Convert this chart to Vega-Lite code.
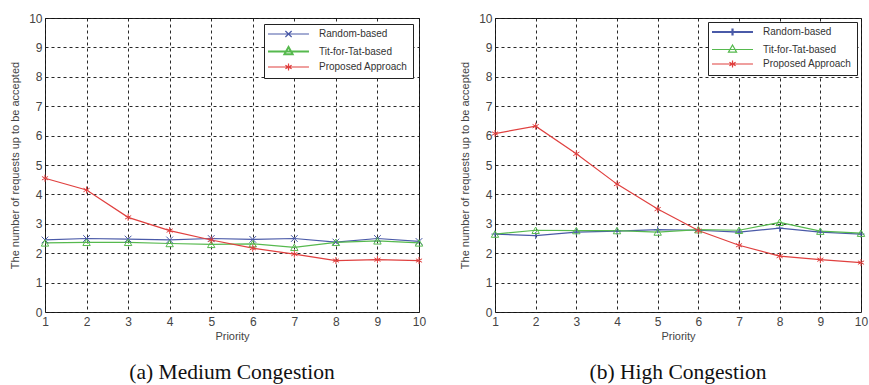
{
  "$schema": "https://vega.github.io/schema/vega-lite/v6.json",
  "padding": {"left": 9, "top": 11, "right": 2, "bottom": 2},
  "background": "white",
  "datasets": {
    "medium": [
      {"priority": 1, "series": "Random-based", "value": 2.45},
      {"priority": 2, "series": "Random-based", "value": 2.5},
      {"priority": 3, "series": "Random-based", "value": 2.48},
      {"priority": 4, "series": "Random-based", "value": 2.45},
      {"priority": 5, "series": "Random-based", "value": 2.5},
      {"priority": 6, "series": "Random-based", "value": 2.47},
      {"priority": 7, "series": "Random-based", "value": 2.5},
      {"priority": 8, "series": "Random-based", "value": 2.38},
      {"priority": 9, "series": "Random-based", "value": 2.5},
      {"priority": 10, "series": "Random-based", "value": 2.4},
      {"priority": 1, "series": "Tit-for-Tat-based", "value": 2.35},
      {"priority": 2, "series": "Tit-for-Tat-based", "value": 2.37},
      {"priority": 3, "series": "Tit-for-Tat-based", "value": 2.37},
      {"priority": 4, "series": "Tit-for-Tat-based", "value": 2.33},
      {"priority": 5, "series": "Tit-for-Tat-based", "value": 2.3},
      {"priority": 6, "series": "Tit-for-Tat-based", "value": 2.32},
      {"priority": 7, "series": "Tit-for-Tat-based", "value": 2.2},
      {"priority": 8, "series": "Tit-for-Tat-based", "value": 2.37},
      {"priority": 9, "series": "Tit-for-Tat-based", "value": 2.42},
      {"priority": 10, "series": "Tit-for-Tat-based", "value": 2.35},
      {"priority": 1, "series": "Proposed Approach", "value": 4.55},
      {"priority": 2, "series": "Proposed Approach", "value": 4.15},
      {"priority": 3, "series": "Proposed Approach", "value": 3.22},
      {"priority": 4, "series": "Proposed Approach", "value": 2.77},
      {"priority": 5, "series": "Proposed Approach", "value": 2.45},
      {"priority": 6, "series": "Proposed Approach", "value": 2.17},
      {"priority": 7, "series": "Proposed Approach", "value": 1.97},
      {"priority": 8, "series": "Proposed Approach", "value": 1.75},
      {"priority": 9, "series": "Proposed Approach", "value": 1.78},
      {"priority": 10, "series": "Proposed Approach", "value": 1.75}
    ],
    "high": [
      {"priority": 1, "series": "Random-based", "value": 2.65},
      {"priority": 2, "series": "Random-based", "value": 2.6},
      {"priority": 3, "series": "Random-based", "value": 2.72},
      {"priority": 4, "series": "Random-based", "value": 2.75},
      {"priority": 5, "series": "Random-based", "value": 2.8},
      {"priority": 6, "series": "Random-based", "value": 2.78},
      {"priority": 7, "series": "Random-based", "value": 2.72},
      {"priority": 8, "series": "Random-based", "value": 2.85},
      {"priority": 9, "series": "Random-based", "value": 2.72},
      {"priority": 10, "series": "Random-based", "value": 2.65},
      {"priority": 1, "series": "Tit-for-Tat-based", "value": 2.65},
      {"priority": 2, "series": "Tit-for-Tat-based", "value": 2.78},
      {"priority": 3, "series": "Tit-for-Tat-based", "value": 2.77},
      {"priority": 4, "series": "Tit-for-Tat-based", "value": 2.77},
      {"priority": 5, "series": "Tit-for-Tat-based", "value": 2.72},
      {"priority": 6, "series": "Tit-for-Tat-based", "value": 2.8},
      {"priority": 7, "series": "Tit-for-Tat-based", "value": 2.78},
      {"priority": 8, "series": "Tit-for-Tat-based", "value": 3.05},
      {"priority": 9, "series": "Tit-for-Tat-based", "value": 2.75},
      {"priority": 10, "series": "Tit-for-Tat-based", "value": 2.68},
      {"priority": 1, "series": "Proposed Approach", "value": 6.07},
      {"priority": 2, "series": "Proposed Approach", "value": 6.32},
      {"priority": 3, "series": "Proposed Approach", "value": 5.38},
      {"priority": 4, "series": "Proposed Approach", "value": 4.35},
      {"priority": 5, "series": "Proposed Approach", "value": 3.5},
      {"priority": 6, "series": "Proposed Approach", "value": 2.77},
      {"priority": 7, "series": "Proposed Approach", "value": 2.27},
      {"priority": 8, "series": "Proposed Approach", "value": 1.9},
      {"priority": 9, "series": "Proposed Approach", "value": 1.78},
      {"priority": 10, "series": "Proposed Approach", "value": 1.68}
    ]
  },
  "config": {
    "view": {"stroke": "#222", "strokeWidth": 1},
    "font": "Liberation Sans",
    "axis": {
      "labelFont": "Liberation Sans",
      "labelFontSize": 12,
      "labelColor": "#444",
      "labelFlush": false,
      "labelOverlap": false,
      "titleFont": "Liberation Sans",
      "titleFontSize": 11,
      "titleFontWeight": "normal",
      "titleColor": "#444",
      "ticks": false,
      "domain": false,
      "grid": true,
      "gridColor": "#111",
      "gridDash": [3, 3],
      "gridOpacity": 0.9,
      "gridWidth": 1
    },
    "legend": {
      "labelFont": "Liberation Sans",
      "labelFontSize": 10,
      "labelColor": "#333",
      "fillColor": "white",
      "strokeColor": "#222",
      "padding": 5,
      "rowPadding": 2.5,
      "symbolSize": 144,
      "symbolStrokeWidth": 1.2,
      "labelOffset": 40,
      "title": null
    },
    "title": {
      "font": "Liberation Serif",
      "fontSize": 21.5,
      "fontWeight": "normal",
      "color": "#111",
      "orient": "bottom",
      "anchor": "middle",
      "offset": 21
    }
  },
  "spacing": 32,
  "hconcat": [
    {
      "width": 374,
      "height": 294,
      "title": "(a)  Medium Congestion",
      "data": {"name": "medium"},
      "encoding": {
        "x": {"field": "priority", "type": "quantitative", "scale": {"domain": [1, 10], "nice": false}, "axis": {"title": "Priority", "values": [1,2,3,4,5,6,7,8,9,10], "labelPadding": 4, "titlePadding": 3}},
        "y": {"field": "value", "type": "quantitative", "scale": {"domain": [0, 10], "nice": false}, "axis": {"title": "The number of requests up to be accepted", "values": [0,1,2,3,4,5,6,7,8,9,10], "labelPadding": 3, "titlePadding": 8}},
        "color": {"field": "series", "type": "nominal", "scale": {"domain": ["Random-based", "Tit-for-Tat-based", "Proposed Approach"], "range": ["#4a5aa8", "#56b94e", "#e0403f"]},
          "legend": {"orient": "top-right", "offset": 6,
            "encode": {"symbols": {"update": {
              "shape": {"signal": "datum.value === 'Random-based' ? 'M-1,0L5.83,0M1.9,-0.5L2.94,0.5M1.9,0.5L2.94,-0.5' : datum.value === 'Tit-for-Tat-based' ? 'M-1,0L5.83,0M2.42,-0.75L3.1,0.45L1.74,0.45Z' : 'M-1,0L5.83,0M2.42,-0.6L2.42,0.6M1.9,-0.3L2.94,0.3M1.9,0.3L2.94,-0.3'"},
              "strokeWidth": {"signal": "datum.value === 'Tit-for-Tat-based' ? 2 : 1.2"},
              "fill": {"value": "transparent"}}}}}}
      },
      "layer": [
        {"mark": {"type": "line", "strokeWidth": 1.2}},
        {"transform": [{"filter": "datum.series === 'Random-based'"}], "mark": {"type": "point", "filled": false, "size": 45, "strokeWidth": 1, "opacity": 1, "shape": "M-1,-1L1,1M-1,1L1,-1"}},
        {"transform": [{"filter": "datum.series === 'Tit-for-Tat-based'"}], "mark": {"type": "point", "filled": false, "size": 55, "strokeWidth": 1, "opacity": 1, "shape": "triangle-up"}},
        {"transform": [{"filter": "datum.series === 'Proposed Approach'"}], "mark": {"type": "point", "filled": false, "size": 50, "strokeWidth": 1, "opacity": 1, "shape": "M0,-1L0,1M-0.87,-0.5L0.87,0.5M-0.87,0.5L0.87,-0.5"}}
      ]
    },
    {
      "width": 366,
      "height": 294,
      "title": "(b)  High Congestion",
      "data": {"name": "high"},
      "encoding": {
        "x": {"field": "priority", "type": "quantitative", "scale": {"domain": [1, 10], "nice": false}, "axis": {"title": "Priority", "values": [1,2,3,4,5,6,7,8,9,10], "labelPadding": 4, "titlePadding": 3}},
        "y": {"field": "value", "type": "quantitative", "scale": {"domain": [0, 10], "nice": false}, "axis": {"title": "The number of requests up to be accepted", "values": [0,1,2,3,4,5,6,7,8,9,10], "labelPadding": 3, "titlePadding": 8}},
        "color": {"field": "series", "type": "nominal", "scale": {"domain": ["Random-based", "Tit-for-Tat-based", "Proposed Approach"], "range": ["#4a5aa8", "#56b94e", "#e0403f"]},
          "legend": {"orient": "top-right", "offset": 4,
            "encode": {"symbols": {"update": {
              "shape": {"signal": "datum.value === 'Random-based' ? 'M-1,0L5.83,0M2.42,-0.6L2.42,0.6' : datum.value === 'Tit-for-Tat-based' ? 'M-1,0L5.83,0M2.42,-0.75L3.1,0.45L1.74,0.45Z' : 'M-1,0L5.83,0M2.42,-0.6L2.42,0.6M1.9,-0.3L2.94,0.3M1.9,0.3L2.94,-0.3'"},
              "strokeWidth": {"signal": "datum.value === 'Random-based' ? 2.2 : 1.2"},
              "fill": {"value": "transparent"}}}}}}
      },
      "layer": [
        {"mark": {"type": "line", "strokeWidth": 1.2}},
        {"transform": [{"filter": "datum.series === 'Random-based'"}], "mark": {"type": "point", "filled": false, "size": 50, "strokeWidth": 1, "opacity": 1, "shape": "M-1,0L1,0M0,-1L0,1"}},
        {"transform": [{"filter": "datum.series === 'Tit-for-Tat-based'"}], "mark": {"type": "point", "filled": false, "size": 55, "strokeWidth": 1, "opacity": 1, "shape": "triangle-up"}},
        {"transform": [{"filter": "datum.series === 'Proposed Approach'"}], "mark": {"type": "point", "filled": false, "size": 50, "strokeWidth": 1, "opacity": 1, "shape": "M0,-1L0,1M-0.87,-0.5L0.87,0.5M-0.87,0.5L0.87,-0.5"}}
      ]
    }
  ],
  "resolve": {"scale": {"color": "independent"}, "legend": {"color": "independent"}}
}
